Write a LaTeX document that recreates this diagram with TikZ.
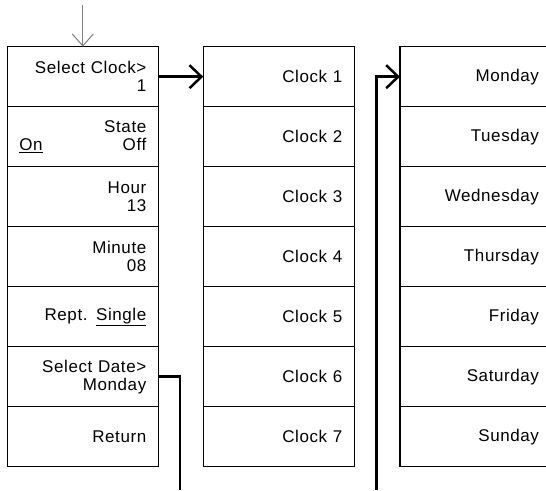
\documentclass[tikz,border=0pt]{standalone}
\usepackage{fontspec}
\setmainfont{Liberation Sans}[LetterSpace=3.5]
\usetikzlibrary{positioning, arrows.meta}

\begin{document}
\begin{tikzpicture}[
    x=1pt, y=-1pt,
    font=\fontsize{17}{18}\selectfont,
    key/.style={draw, line width=1.3pt, text width=127pt, minimum height=60pt,
        align=right, inner xsep=12pt, inner ysep=0pt, outer sep=0pt},
    link/.style={line width=2.5pt, -{Straight Barb[length=12pt, width=23pt]}}
]

% --- RAHMEN ---
\useasboundingbox (0,0) rectangle (546,490);

% --- MENU LINKS ---
\node[key] (clock) at (82.8,76.7) {Select Clock>\\1};
\node[key, below=0pt of clock] (state) {State\\\underline{On}\hfill Off};
\node[key, below=0pt of state] (hour) {Hour\\13};
\node[key, below=0pt of hour] (minute) {Minute\\08};
\node[key, below=0pt of minute] (rept) {Rept. \underline{Single}};
\node[key, below=0pt of rept] (date) {Select Date>\\Monday};
\node[key, below=0pt of date] (return) {Return};

% --- UHREN ---
\foreach \i in {1,...,7} {
    \node[key] (clk\i) at (278.8, {76.7+60*(\i-1)}) {Clock \i};
}

% --- WOCHENTAGE ---
\foreach \day [count=\i] in {Monday, Tuesday, Wednesday, Thursday, Friday, Saturday, Sunday} {
    \node[key] (day\i) at (475.5, {76.7+60*(\i-1)}) {\day};
}

% --- PFEILE ---
\coordinate (entry) at (82.8,5);
\draw[black!50, line width=1pt, -{Straight Barb[length=12pt, width=21pt]}] (entry) -- (clock.north);
\draw[link] (clock.east) -- (clk1.west);

\coordinate (dateout) at (180,490);
\draw[line width=2.5pt] (date.east) -| (dateout);

\coordinate (dayin) at (376.7,490);
\draw[link] (dayin) |- (day1.west);

\end{tikzpicture}
\end{document}
